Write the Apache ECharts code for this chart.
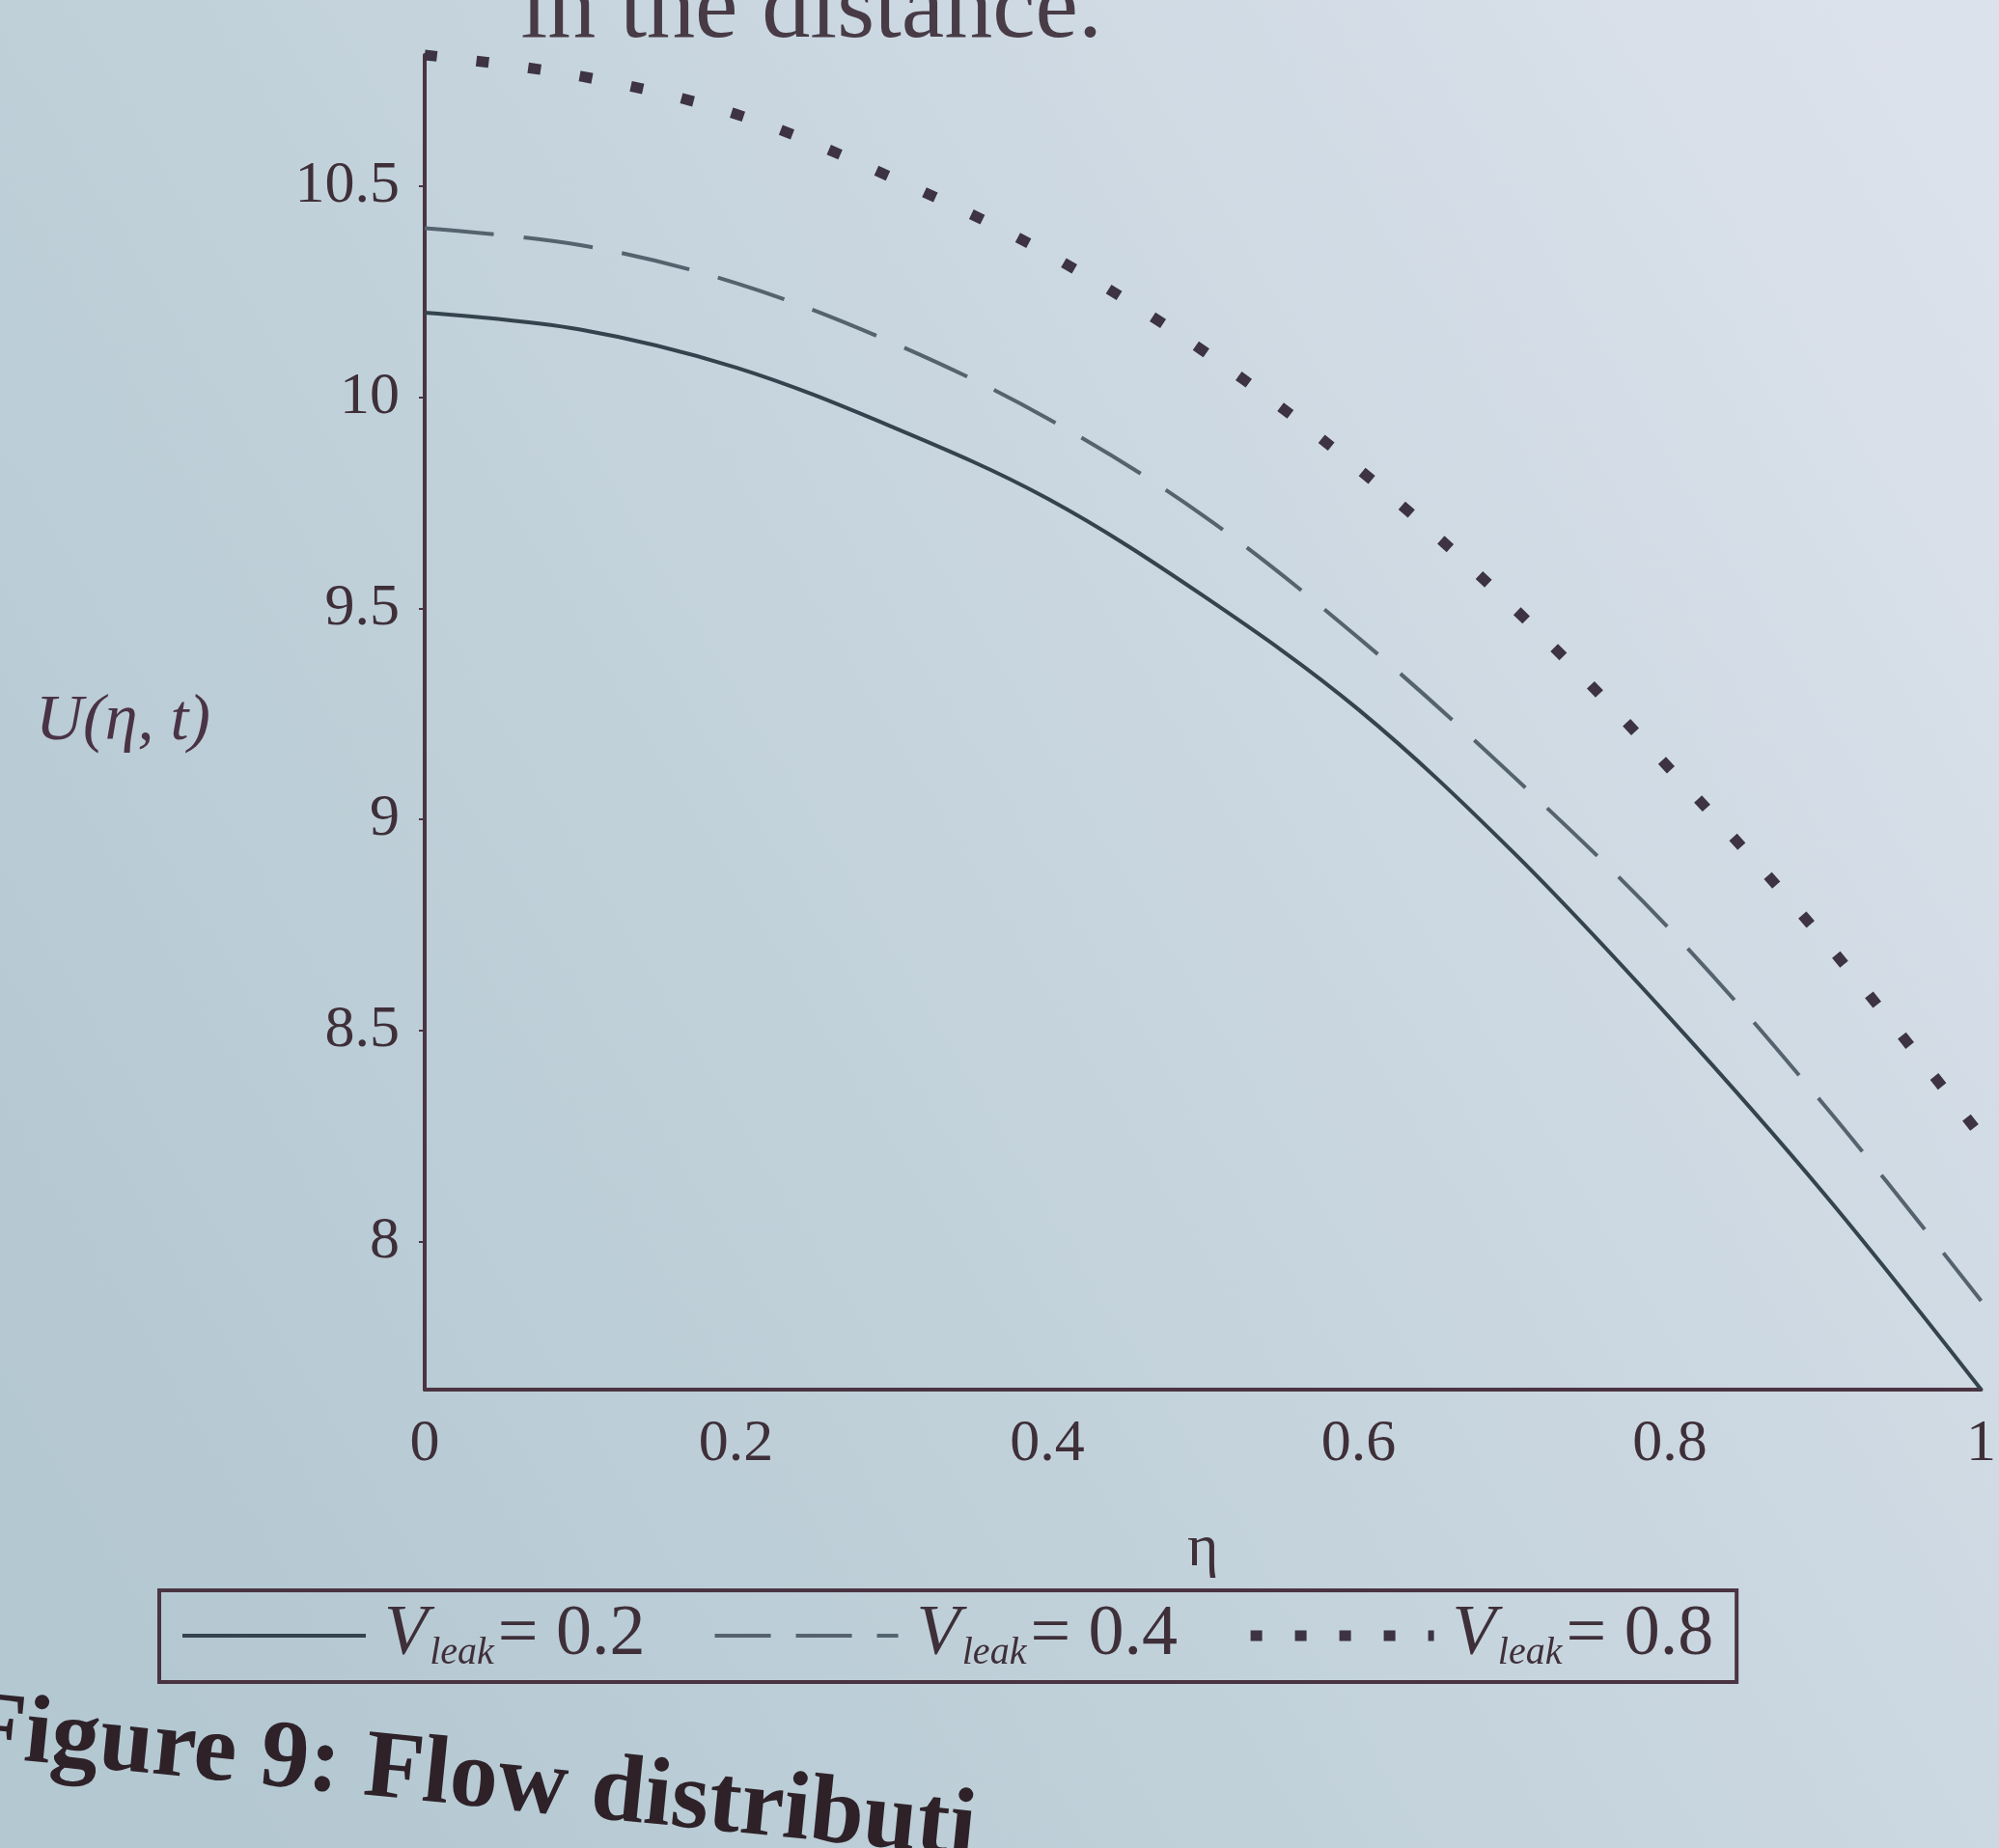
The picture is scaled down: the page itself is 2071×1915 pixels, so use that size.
<!DOCTYPE html>
<html>
<head>
<meta charset="utf-8">
<style>
html,body{margin:0;padding:0;width:2071px;height:1915px;overflow:hidden;background:#c6d4dd}
#c{width:2071px;height:1915px}
</style>
<script src="https://cdn.jsdelivr.net/npm/echarts@6.0.0/dist/echarts.min.js"></script>
</head>
<body>
<div id="c"></div>
<script>
// ---- data ----
const eta = [0, 0.1, 0.2, 0.3, 0.4, 0.5, 0.6, 0.7, 0.8, 0.9, 1];
const uLeak02 = [10.20, 10.16, 10.07, 9.93, 9.76, 9.53, 9.26, 8.92, 8.53, 8.11, 7.65];
const uLeak04 = [10.40, 10.36, 10.27, 10.13, 9.95, 9.72, 9.43, 9.10, 8.74, 8.32, 7.86];
const uLeak08 = [10.81, 10.76, 10.67, 10.52, 10.34, 10.11, 9.83, 9.50, 9.12, 8.71, 8.25];
const seriesNames = ['Vleak02', 'Vleak04', 'Vleak08'];
const leakValues = ['0.2', '0.4', '0.8'];
const yTickValues = [8, 8.5, 9, 9.5, 10, 10.5];
const xTickValues = [0, 0.2, 0.4, 0.6, 0.8, 1];
const yAxisTitle = 'U(η, t)';
const xAxisTitle = 'η';
const captionText = 'Figure 9: Flow distributi';
const headText = 'in the distance.';

const ink = '#3e2f39';
const axisInk = '#4a3442';
const serif = 'Liberation Serif';

const styles = [
  {color: '#34434d', width: 4, type: 'solid', legendType: 'solid', legendWidth: 4},
  {color: '#55636e', width: 4, type: [72, 31], legendType: [58, 26], legendWidth: 4},
  {color: '#3d3342', width: 11, type: [13, 41], legendType: [12, 34], legendWidth: 11}
];

function pairs(u) { return eta.map((x, i) => [x, u[i]]); }

const chart = echarts.init(document.getElementById('c'), null, {renderer: 'canvas'});

const option = {
  animation: false,
  backgroundColor: {
    type: 'linear', x: 0, y: 0.75, x2: 1, y2: 0.1,
    colorStops: [
      {offset: 0, color: '#b4c8d2'},
      {offset: 0.45, color: '#c4d3dc'},
      {offset: 1, color: '#dce2ec'}
    ]
  },
  grid: {left: 440, right: 14, top: 57, bottom: 475, containLabel: false},
  xAxis: {
    type: 'value', min: 0, max: 1, interval: 0.2,
    name: xAxisTitle, nameLocation: 'middle', nameGap: 135,
    nameTextStyle: {fontFamily: serif, fontSize: 62, color: ink},
    axisLine: {show: true, onZero: false, lineStyle: {color: axisInk, width: 4}},
    axisTick: {show: false},
    splitLine: {show: false},
    axisLabel: {
      customValues: xTickValues,
      fontFamily: serif, fontSize: 62, color: ink, margin: 26
    }
  },
  yAxis: {
    type: 'value', min: 7.65, max: 10.81,
    name: yAxisTitle, nameLocation: 'middle', nameRotate: 0, nameGap: 222,
    nameTextStyle: {fontFamily: serif, fontStyle: 'italic', fontSize: 68, color: '#4a3345', padding: [0, 0, 100, 0]},
    axisLine: {show: true, onZero: false, lineStyle: {color: axisInk, width: 4}},
    axisTick: {show: true, customValues: yTickValues, length: 6, lineStyle: {color: axisInk, width: 2}},
    splitLine: {show: false},
    axisLabel: {
      customValues: yTickValues,
      fontFamily: serif, fontSize: 62, color: ink, margin: 26
    }
  },
  legend: {
    left: 165, top: 1648,
    orient: 'horizontal',
    itemWidth: 190, itemHeight: 24, itemGap: 70,
    borderColor: axisInk, borderWidth: 4, borderRadius: 0,
    padding: [10, 24, 10, 22],
    selectedMode: false,
    data: seriesNames.map((n, i) => ({
      name: n,
      itemStyle: {opacity: 0},
      lineStyle: {color: styles[i].color, width: styles[i].legendWidth, type: styles[i].legendType, cap: 'butt', opacity: 1}
    })),
    formatter: function (name) {
      const v = leakValues[seriesNames.indexOf(name)];
      return '{v|V}{s|leak}{n|= ' + v + '}';
    },
    textStyle: {
      color: ink,
      rich: {
        v: {fontFamily: serif, fontStyle: 'italic', fontSize: 74, color: ink, padding: [0, 2, 0, 14]},
        s: {fontFamily: serif, fontStyle: 'italic', fontSize: 40, color: ink, verticalAlign: 'bottom', padding: [36, 4, 0, 0]},
        n: {fontFamily: serif, fontSize: 74, color: ink}
      }
    }
  },
  graphic: [
    {
      type: 'text', x: 1142, y: 62, silent: true,
      style: {text: headText, font: '100px "Liberation Serif"', fill: '#3a2a35', align: 'right', verticalAlign: 'bottom', opacity: 0.9}
    },
    {
      type: 'text', x: -40, y: 1842, rotation: -0.1, silent: true,
      style: {text: captionText, font: 'bold 100px "Liberation Serif"', fill: '#2e2228', align: 'left', verticalAlign: 'bottom'}
    }
  ],
  series: [uLeak02, uLeak04, uLeak08].map((u, i) => ({
    name: seriesNames[i], type: 'line', data: pairs(u), smooth: 0.35,
    symbol: 'none', clip: false,
    lineStyle: {color: styles[i].color, width: styles[i].width, type: styles[i].type, cap: 'butt'},
    itemStyle: {color: styles[i].color},
    emphasis: {disabled: true}
  }))
};
chart.setOption(option);
</script>
</body>
</html>
